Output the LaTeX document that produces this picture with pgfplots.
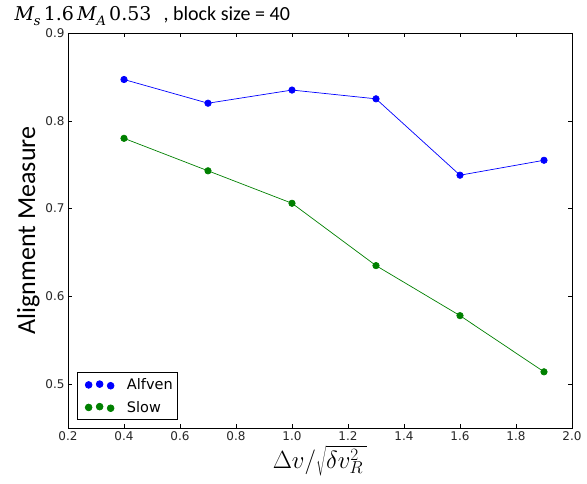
\documentclass[border=0pt]{standalone}
\usepackage{fontspec}
\setmainfont{DejaVu Sans}
\newfontfamily\labelfont{Carlito}
\newfontfamily\mathserif{DejaVu Serif}
\usepackage{pgfplots}
\pgfplotsset{compat=1.18}
\definecolor{mplblue}{RGB}{0,0,255}
\definecolor{mplgreen}{RGB}{0,128,0}
\newcommand{\msub}[1]{\raisebox{-0.25em}{\fontsize{13}{15}\selectfont\itshape #1}}
\begin{document}
\begin{tikzpicture}[x=1pt,y=1pt]
\path[use as bounding box] (-68,-56) rectangle (519,428);
\begin{axis}[
  scale only axis,
  width=504pt, height=395pt,
  xmin=0.2, xmax=2.0, ymin=0.45, ymax=0.9,
  xtick={0.2,0.4,...,2.0},
  ytick={0.5,0.6,0.7,0.8,0.9},
  xticklabel style={/pgf/number format/.cd,fixed,fixed zerofill,precision=1},
  yticklabel style={/pgf/number format/.cd,fixed,fixed zerofill,precision=1},
  /pgf/number format/assume math mode=true,
  tick label style={font=\fontsize{12}{14}\selectfont, text=black!85},
  tick align=inside,
  major tick length=4pt,
  tick style={black, line width=0.5pt},
  axis line style={black, line width=0.8pt},
  xlabel={$\Delta v/\sqrt{\delta v_R^2\,}$},
  xlabel style={font=\fontsize{23}{26}\selectfont, yshift=2pt},
  ylabel={\labelfont Alignment Measure},
  ylabel style={font=\fontsize{26}{30}\selectfont, yshift=-1pt},
  title={{\mathserif\itshape M\msub{s}\,\upshape 1.6\,\itshape M\msub{A}\,\upshape 0.53}\ \ {\labelfont\fontsize{20}{23}\selectfont, block size = 40}},
  title style={font=\fontsize{19}{22}\selectfont, anchor=south west, at={(rel axis cs:0,1)}, xshift=-57pt, yshift=-2pt},
  legend style={font=\fontsize{14.5}{17}\selectfont, draw=black, line width=0.6pt,
    inner xsep=3pt, inner ysep=4pt, row sep=6pt,
    at={(rel axis cs:0,0)}, anchor=south west, xshift=9pt, yshift=8pt},
  legend cell align=left,
  legend image code/.code={
    \fill (0pt,0pt) circle (3.4pt);
    \fill (11pt,0.8pt) circle (3.4pt);
    \fill (22pt,-0.8pt) circle (3.4pt);
    \path (-8pt,0pt) (36pt,0pt);
  },
]
\addplot[mplblue, line width=0.7pt, mark=*, mark size=3.2pt, mark options={draw=mplblue, fill=mplblue}]
  coordinates {(0.4,0.847) (0.7,0.820) (1.0,0.835) (1.3,0.825) (1.6,0.738) (1.9,0.755)};
\addlegendentry{Alfven}
\addplot[mplgreen, line width=0.7pt, mark=*, mark size=3.2pt, mark options={draw=mplgreen, fill=mplgreen}]
  coordinates {(0.4,0.780) (0.7,0.743) (1.0,0.706) (1.3,0.635) (1.6,0.578) (1.9,0.514)};
\addlegendentry{Slow}
\end{axis}
\end{tikzpicture}
\end{document}
